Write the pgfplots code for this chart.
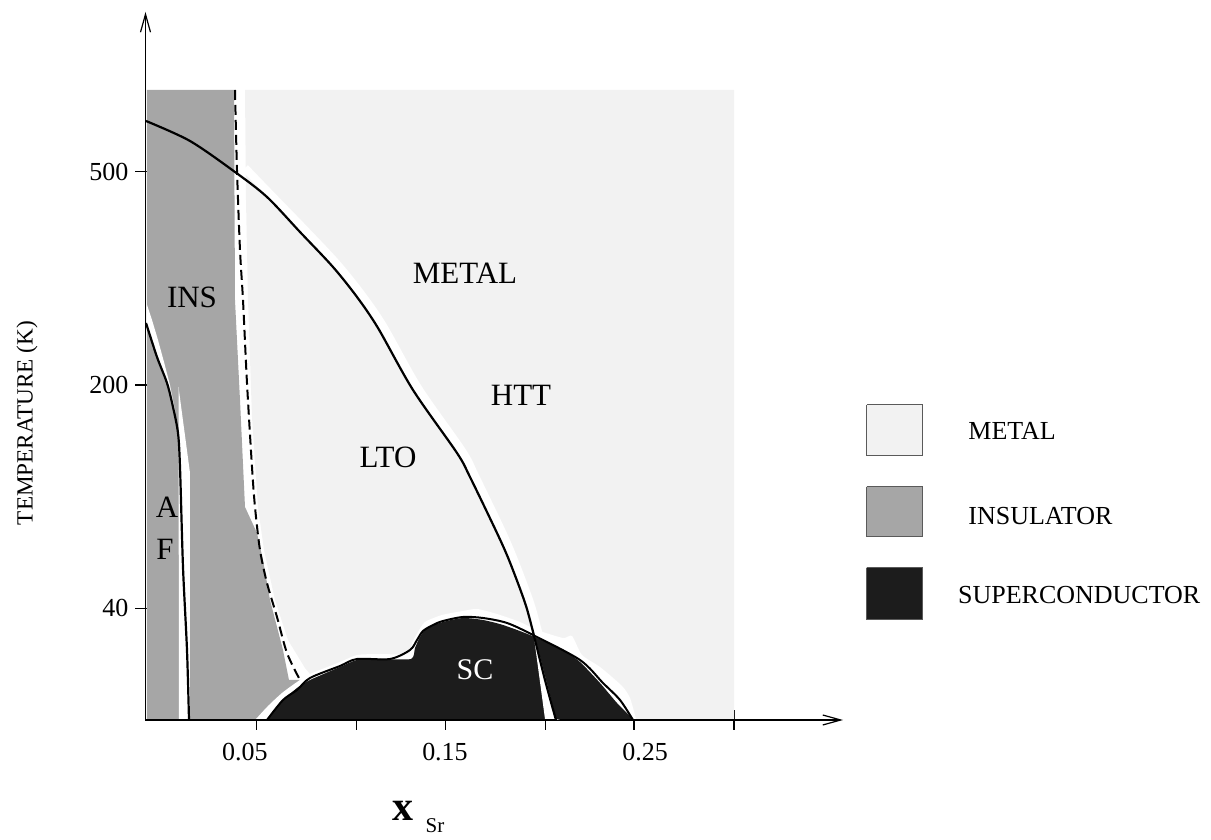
\documentclass[border=0pt]{standalone}
\usepackage{pgfplots}
\pgfplotsset{compat=1.18}
\usepackage{fontspec}
\setmainfont{Liberation Serif}
\usetikzlibrary{arrows.meta}
\definecolor{metalc}{RGB}{242,242,242}
\definecolor{insc}{RGB}{166,166,166}
\definecolor{scc}{RGB}{28,28,28}
\definecolor{legborder}{RGB}{90,90,90}
\begin{document}
\begin{tikzpicture}
\begin{axis}[
  scale only axis, width=348.75pt, height=354pt,
  xmin=145.5, xmax=843, ymin=-720, ymax=-12,
  axis lines=left,
  axis line style={line width=0.6pt, -{Straight Barb[length=9pt,width=5pt]}},
  xtick={256.7,356.7,445.3,545.3,634,734}, xticklabels={},
  ytick={-608.3,-385,-171.7}, yticklabels={40,200,500},
  extra x ticks={245,445,645}, extra x tick labels={0.05,0.15,0.25},
  extra x tick style={tick style={draw=none}, tick label style={yshift=-3pt}},
  tick align=center, major tick length=10pt,
  tick style={black, line width=0.6pt},
  tick label style={font=\fontsize{13}{15}\selectfont},
  /pgf/number format/assume math mode=true,
  clip=false, no markers,
]
% metal region
\addplot[fill=metalc, draw=none] coordinates {(245,-90) (734,-90) (734,-719) (330,-719) (315,-680) (305,-668) (288,-640) (275,-600) (264,-550) (258,-507) (252,-417) (248,-300) (246,-200) (245,-90)};
% insulator region
\addplot[fill=insc, draw=none] coordinates {(147,-90) (234,-90) (235,-300) (240,-400) (245,-507) (257,-533) (263,-560) (270,-600) (283,-650) (289,-680) (301,-680) (258,-719) (147,-719)};
% white band along structural transition
\addplot[white, line width=4pt, smooth, tension=0.5] coordinates {(245,-168) (270,-194) (303,-228) (336,-263) (361,-294) (383,-326) (418,-388) (462,-451) (475,-476) (502,-532) (514,-560) (528,-597) (535,-620) (550,-680) (560,-719)};
% white halo around SC dome
\addplot[fill=white, draw=none, smooth, tension=0.4] coordinates {(256,-719) (268,-706) (282,-693) (297,-682) (310,-674) (340,-662) (357,-655) (380,-654) (408,-654) (412,-643) (418,-632) (425,-622) (442,-615) (463,-611) (477,-609) (497,-614) (520,-622) (537,-630) (563,-638) (572,-636) (582,-655) (600,-667) (622,-686) (630,-698) (636,-719)};
% superconducting dome
\addplot[fill=scc, draw=none, smooth, tension=0.4] coordinates {(267,-719) (280,-703) (297,-688) (310,-680) (340,-667) (357,-660) (380,-659) (411,-659) (415,-648) (420,-637) (427,-628) (443,-622) (463,-618) (483,-620) (503,-625) (530,-635) (563,-650) (580,-662) (600,-683) (617,-703) (633,-719)};
% white wedge in dome
\addplot[fill=white, draw=none] coordinates {(533,-630) (545,-719) (556,-719)};
% AF white bands
\addplot[fill=white, draw=none] coordinates {(147,-305) (152,-320) (158,-340) (164,-362) (170,-385) (175,-410) (178,-440) (178,-433) (173,-407) (167,-383) (157,-357) (147,-323)};
\addplot[fill=white, draw=none] coordinates {(178.5,-387) (190,-473) (190,-719) (179,-719)};
% lines
\addplot[black, line width=1.1pt, smooth, tension=0.5] coordinates {(146,-121) (190,-141) (235,-172) (267,-197) (300,-232) (333,-267) (357,-297) (378,-328) (413,-390) (457,-453) (470,-477) (497,-533) (509,-560) (523,-597) (530,-620) (545,-680) (556,-720)};
\addplot[black, line width=1pt, dash pattern=on 5pt off 2.5pt, smooth, tension=0.5] coordinates {(235,-90) (237,-170) (240,-250) (243,-300) (247,-383) (252,-467) (255,-507) (260,-550) (267,-583) (277,-617) (287,-653) (300,-680)};
\addplot[black, line width=1.1pt, smooth, tension=0.5] coordinates {(146,-323) (157,-357) (167,-383) (173,-407) (178,-433) (180,-467) (183,-567) (187,-650) (189,-720)};
\addplot[black, line width=1pt, smooth, tension=0.5] coordinates {(267,-720) (283,-700) (297,-690) (310,-678) (340,-666) (357,-659) (390,-659) (410,-650) (417,-640) (423,-631) (433,-625) (443,-621) (463,-617) (483,-618) (507,-623) (533,-635) (580,-660) (603,-683) (620,-700) (633,-720)};
% legend squares
\addplot[fill=metalc, draw=legborder, line width=0.5pt] coordinates {(866.7,-405) (922.7,-405) (922.7,-456) (866.7,-456) (866.7,-405)};
\addplot[fill=insc, draw=legborder, line width=0.5pt] coordinates {(866.7,-486.7) (922.7,-486.7) (922.7,-536.7) (866.7,-536.7) (866.7,-486.7)};
\addplot[fill=scc, draw=legborder, line width=0.5pt] coordinates {(866.7,-567.7) (922.7,-567.7) (922.7,-619.3) (866.7,-619.3) (866.7,-567.7)};
% legend text
\node[anchor=west, inner sep=0pt, font=\fontsize{13}{15}\selectfont] at (axis cs:968,-431) {METAL};
\node[anchor=west, inner sep=0pt, font=\fontsize{13}{15}\selectfont] at (axis cs:968,-516) {INSULATOR};
\node[anchor=west, inner sep=0pt, font=\fontsize{13}{15}\selectfont] at (axis cs:957.7,-595) {SUPERCONDUCTOR};
% region labels
\node[font=\fontsize{15.5}{18}\selectfont] at (axis cs:465,-273) {METAL};
\node[font=\fontsize{15.5}{18}\selectfont] at (axis cs:192,-297) {INS};
\node[font=\fontsize{15.5}{18}\selectfont] at (axis cs:521,-395) {HTT};
\node[font=\fontsize{15.5}{18}\selectfont] at (axis cs:388,-457) {LTO};
\node[font=\fontsize{15.5}{18}\selectfont] at (axis cs:167,-507) {A};
\node[font=\fontsize{15.5}{18}\selectfont] at (axis cs:165,-549) {F};
\node[white, font=\fontsize{15}{18}\selectfont] at (axis cs:475,-670) {SC};
% axis titles
\node[rotate=90, font=\fontsize{11.6}{14}\selectfont] at (axis cs:27,-423) {TEMPERATURE (K)};
\node[font=\fontsize{21}{24}\selectfont\bfseries] at (axis cs:403,-811) {x};
\node[font=\fontsize{10.5}{12}\selectfont] at (axis cs:435,-826) {Sr};
% page frame
\path (axis cs:0,-836) rectangle (axis cs:1211,0);
\end{axis}
\end{tikzpicture}
\end{document}
